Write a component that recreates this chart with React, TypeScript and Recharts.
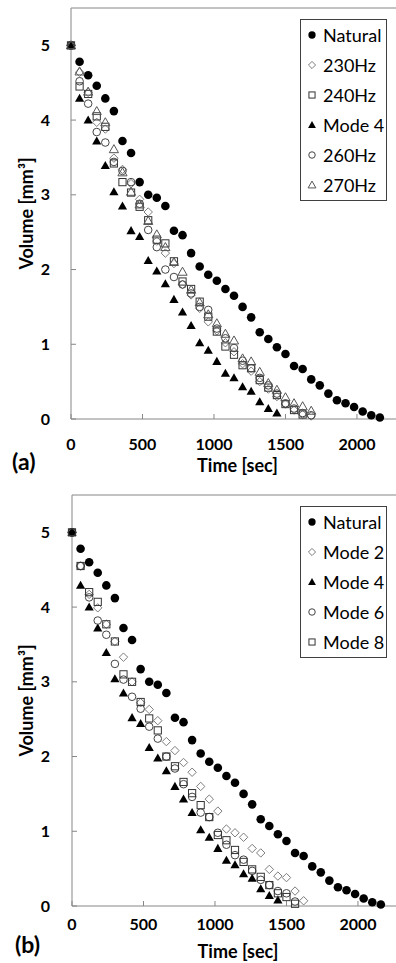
import React from 'react';
import { ScatterChart, Scatter, XAxis, YAxis, Legend, ReferenceLine } from 'recharts';

// sampling times [sec], one reading every minute
const TIMES = [
  0, 60, 120, 180, 240, 300, 360, 420, 480, 540, 600, 660, 720, 780, 840, 900, 960, 1020, 1080,
  1140, 1200, 1260, 1320, 1380, 1440, 1500, 1560, 1620, 1680, 1740, 1800, 1860, 1920, 1980, 2040,
  2100, 2160,
];

const X_TICKS = [0, 500, 1000, 1500, 2000];
const Y_TICKS = [0, 1, 2, 3, 4, 5];

// volume [mm3]
const natural = [
  5, 4.78, 4.6, 4.46, 4.29, 4.12, 3.72, 3.56, 3.17, 3.0, 2.96, 2.85, 2.52, 2.46, 2.22, 2.04, 1.93,
  1.85, 1.74, 1.65, 1.5, 1.36, 1.16, 1.07, 0.96, 0.87, 0.71, 0.67, 0.53, 0.45, 0.34, 0.25, 0.21,
  0.16, 0.1, 0.05, 0.02,
];
const mode4 = [
  5, 4.29, 4.0, 3.72, 3.39, 3.04, 2.85, 2.52, 2.44, 2.12, 1.98, 1.81, 1.6, 1.43, 1.25, 1.02, 0.92,
  0.77, 0.61, 0.55, 0.43, 0.37, 0.23, 0.14, 0.08,
];
const hz230 = [
  5, 4.64, 4.37, 3.97, 3.88, 3.49, 3.34, 3.15, 2.94, 2.77, 2.38, 2.22, 2.08, 1.8, 1.66, 1.48, 1.3,
  1.18, 1.02, 0.9, 0.74, 0.64, 0.5, 0.4, 0.3, 0.2, 0.12, 0.06, 0.04,
];
const hz240 = [
  5, 4.45, 4.35, 4.05, 3.91, 3.42, 3.17, 3.03, 2.84, 2.66, 2.4, 2.35, 2.11, 1.84, 1.74, 1.57, 1.37,
  1.17, 0.97, 0.86, 0.72, 0.68, 0.52, 0.42, 0.32, 0.2, 0.12, 0.06,
];
const hz260 = [
  5, 4.52, 4.22, 3.84, 3.7, 3.44, 3.32, 3.17, 2.88, 2.53, 2.3, 2.0, 1.9, 1.8, 1.68, 1.5, 1.46, 1.21,
  1.08, 0.95, 0.78, 0.68, 0.55, 0.45, 0.34, 0.21, 0.14, 0.08, 0.05,
];
const hz270 = [
  5, 4.65, 4.38, 4.12, 3.97, 3.61, 3.3, 3.04, 2.87, 2.65, 2.47, 2.3, 2.1, 1.97, 1.73, 1.56, 1.4,
  1.28, 1.14, 1.05, 0.81, 0.77, 0.63, 0.48, 0.39, 0.29, 0.21, 0.17, 0.11,
];
const mode2 = [
  5, 4.55, 4.17, 3.99, 3.77, 3.54, 3.33, 3.0, 2.72, 2.63, 2.48, 2.2, 2.08, 1.92, 1.79, 1.6, 1.43,
  1.27, 1.03, 0.98, 0.92, 0.77, 0.71, 0.49, 0.4, 0.38, 0.2, 0.07,
];
const mode6 = [
  5, 4.55, 4.13, 3.82, 3.63, 3.24, 3.03, 2.8, 2.64, 2.4, 2.24, 2.0, 1.84, 1.63, 1.46, 1.25, 1.19,
  0.98, 0.82, 0.68, 0.62, 0.47, 0.35, 0.28, 0.2, 0.17, 0.06,
];
const mode8 = [
  5, 4.55, 4.2, 4.07, 3.77, 3.54, 3.1, 3.0, 2.73, 2.51, 2.35, 2.0, 1.87, 1.66, 1.51, 1.35, 1.19,
  0.95, 0.88, 0.75, 0.59, 0.49, 0.39, 0.28, 0.17, 0.12, 0.03,
];

type Kind = 'dot' | 'diamond' | 'square' | 'tri' | 'ring' | 'openTri';

const toPoints = (vals: number[]) => vals.map((v, i) => ({ t: TIMES[i], v }));

const Marker = ({ kind, cx, cy, s = 1 }: { kind: Kind; cx: number; cy: number; s?: number }) => {
  if (cx == null || cy == null) return null;
  switch (kind) {
    case 'dot':
      return <circle cx={cx} cy={cy} r={4.3 * s} fill="#000" />;
    case 'diamond': {
      const r = 4.2 * s;
      return (
        <path
          d={`M${cx},${cy - r}L${cx + r},${cy}L${cx},${cy + r}L${cx - r},${cy}Z`}
          fill="none"
          stroke="#7c7c7c"
          strokeWidth={1}
        />
      );
    }
    case 'square': {
      const h = 3.6 * s;
      return <rect x={cx - h} y={cy - h} width={2 * h} height={2 * h} fill="none" stroke="#333" strokeWidth={1} />;
    }
    case 'ring':
      return <circle cx={cx} cy={cy} r={3.8 * s} fill="none" stroke="#444" strokeWidth={1} />;
    case 'tri':
    case 'openTri': {
      const w = 4.6 * s;
      const d = `M${cx},${cy - w}L${cx + w},${cy + 0.75 * w}L${cx - w},${cy + 0.75 * w}Z`;
      return kind === 'tri' ? (
        <path d={d} fill="#000" />
      ) : (
        <path d={d} fill="none" stroke="#555" strokeWidth={1} />
      );
    }
  }
  return null;
};

interface Series {
  name: string;
  kind: Kind;
  values: number[];
}

const seriesA: Series[] = [
  { name: 'Natural', kind: 'dot', values: natural },
  { name: '230Hz', kind: 'diamond', values: hz230 },
  { name: '240Hz', kind: 'square', values: hz240 },
  { name: 'Mode 4', kind: 'tri', values: mode4 },
  { name: '260Hz', kind: 'ring', values: hz260 },
  { name: '270Hz', kind: 'openTri', values: hz270 },
];

const seriesB: Series[] = [
  { name: 'Natural', kind: 'dot', values: natural },
  { name: 'Mode 2', kind: 'diamond', values: mode2 },
  { name: 'Mode 4', kind: 'tri', values: mode4 },
  { name: 'Mode 6', kind: 'ring', values: mode6 },
  { name: 'Mode 8', kind: 'square', values: mode8 },
];

const FONT = 'Lato, "Open Sans", sans-serif';
const AXIS = '#868686';

const LegendBox = ({ items }: { items: Series[] }) => (
  <div
    style={{
      border: '1px solid #404040',
      background: '#fff',
      width: 85,
      fontFamily: FONT,
      fontSize: 18,
      color: '#000',
    }}
  >
    {items.map((it) => (
      <div key={it.name} style={{ height: 30, display: 'flex', alignItems: 'center' }}>
        <svg width={22} height={30} style={{ flexShrink: 0 }}>
          <Marker kind={it.kind} cx={11} cy={15} s={0.85} />
        </svg>
        <span style={{ whiteSpace: 'nowrap' }}>{it.name}</span>
      </div>
    ))}
  </div>
);

interface PanelProps {
  series: Series[];
  height: number;
  axisWidth: number;
  axisHeight: number;
  xMax: number;
  tickGap: number;
  titleDy: number;
}

const Panel = ({ series, height, axisWidth, axisHeight, xMax, tickGap, titleDy }: PanelProps) => (
  <ScatterChart
    width={396}
    height={height}
    margin={{ top: 8, right: 0, bottom: 0, left: 0 }}
    style={{ fontFamily: FONT }}
  >
    <XAxis
      type="number"
      dataKey="t"
      domain={[0, xMax]}
      ticks={X_TICKS}
      height={axisHeight}
      stroke={AXIS}
      tickSize={-5}
      tickMargin={tickGap}
      tick={{ fill: '#000', fontSize: 16, fontWeight: 700 }}
      label={{
        value: 'Time [sec]',
        position: 'center',
        dx: 4,
        dy: titleDy,
        style: { fill: '#000', fontSize: 18, fontWeight: 700 },
      }}
    />
    <YAxis
      type="number"
      dataKey="v"
      domain={[0, 5.5]}
      ticks={Y_TICKS}
      width={axisWidth}
      stroke={AXIS}
      tickSize={-5}
      tickMargin={axisWidth - 45}
      tick={{ fill: '#000', fontSize: 16, fontWeight: 700 }}
      label={{
        value: 'Volume [mm³]',
        angle: -90,
        position: 'center',
        dx: 27 - axisWidth / 2,
        style: { fill: '#000', fontSize: 18, fontWeight: 700 },
      }}
    />
    <ReferenceLine y={5.5} stroke={AXIS} />
    <Legend
      layout="vertical"
      align="center"
      verticalAlign="middle"
      wrapperStyle={{ left: 300, top: 19, width: 'auto', height: 'auto' }}
      content={() => <LegendBox items={series} />}
    />
    {series.map((s) => (
      <Scatter
        key={s.name}
        name={s.name}
        data={toPoints(s.values)}
        isAnimationActive={false}
        shape={(p: any) => <Marker kind={s.kind} cx={p.cx} cy={p.cy} />}
      />
    ))}
  </ScatterChart>
);

const letterStyle: React.CSSProperties = {
  position: 'absolute',
  fontFamily: FONT,
  fontWeight: 700,
  fontSize: 23,
  lineHeight: '23px',
  color: '#000',
};

export default function App() {
  return (
    <div style={{ position: 'absolute', left: 0, top: 0, width: 396, height: 963, background: '#fff' }}>
      <div style={{ position: 'absolute', left: 0, top: 0 }}>
        <Panel series={seriesA} height={480} axisWidth={71} axisHeight={61} xMax={2273} tickGap={25} titleDy={16} />
      </div>
      <div style={{ position: 'absolute', left: 0, top: 487 }}>
        <Panel series={seriesB} height={476} axisWidth={72} axisHeight={57} xMax={2266} tickGap={18} titleDy={17} />
      </div>
      <div style={{ ...letterStyle, left: 12, top: 450 }}>(a)</div>
      <div style={{ ...letterStyle, left: 15, top: 933 }}>(b)</div>
    </div>
  );
}
